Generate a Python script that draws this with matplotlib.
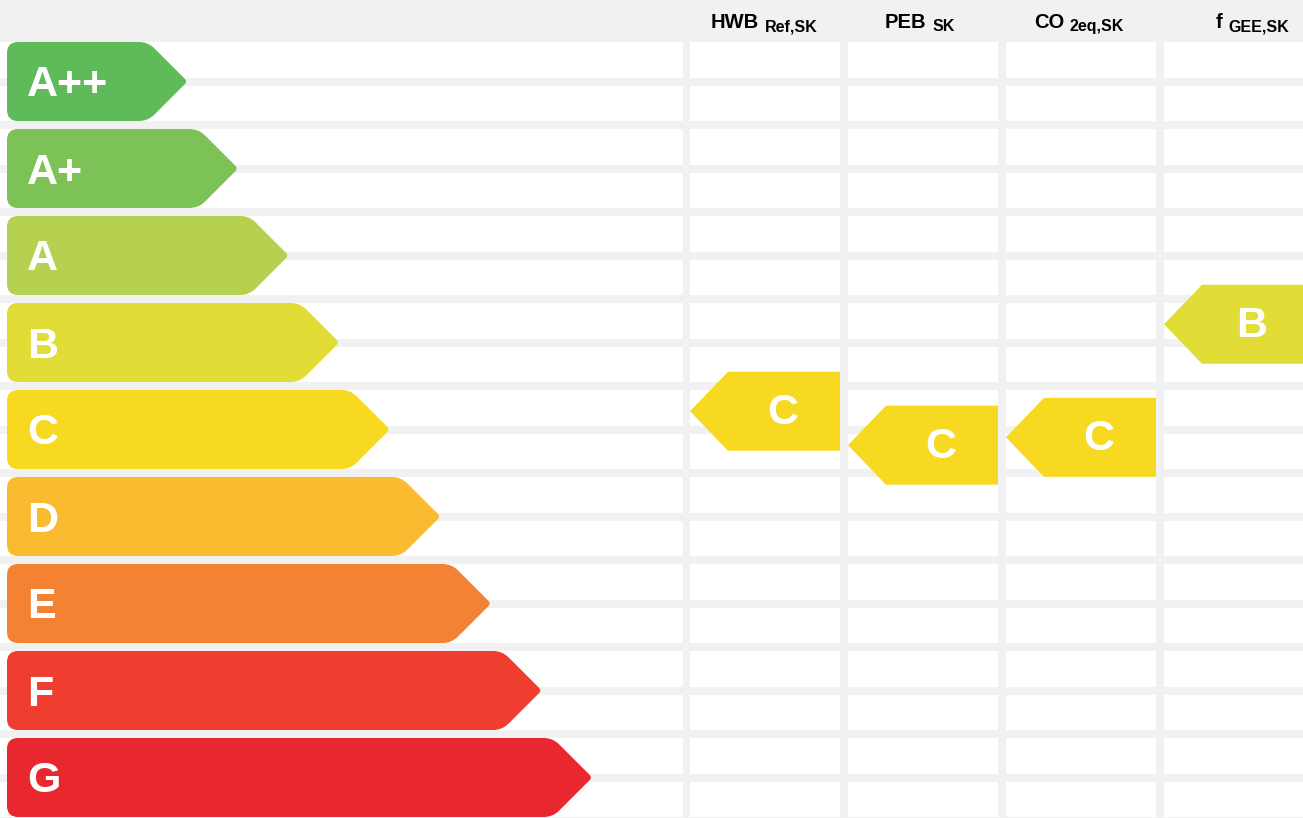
import numpy as np
import matplotlib
matplotlib.use("Agg")
import matplotlib.pyplot as plt
from matplotlib.path import Path
from matplotlib.patches import PathPatch, Polygon, Rectangle

plt.rcParams['font.family'] = ['Liberation Sans', 'DejaVu Sans']

# energy classes (top to bottom) and their colours
classes = ['A++', 'A+', 'A', 'B', 'C', 'D', 'E', 'F', 'G']
class_colors = ['#5fba5a', '#7dc256', '#b6d14f', '#e1dc36', '#f6d920',
                '#fbbb30', '#f38233', '#ef3d2f', '#e9272e']

# indicator columns: header main text, subscript, rating, position on scale (class units)
ind_main = ['HWB', 'PEB', 'CO', 'f']
ind_sub = ['Ref,SK', 'SK', '2eq,SK', 'GEE,SK']
ind_rating = ['C', 'C', 'C', 'B']
ind_pos = [3.79, 4.18, 4.09, 2.79]

# layout (pixels)
W, H = 1303, 818
BG = '#f1f1f1'
top0 = 42.0          # top of the first row
pitch = 87.0         # one class row
sub_h = 35.5         # white sub-row height
sub_pitch = 43.5
bar_h = 79.0
left_x = 7.0
tip0, tip_step = 187.5, 50.6
col_left = [690.0, 848.0, 1006.0, 1164.0]
col_w = 149.5
head_cx = [764.5, 920.0, 1079.0, 1252.0]


def rounded_path(pts, radii):
    pts = [np.array(p, float) for p in pts]
    n = len(pts)
    verts, codes = [], []
    for i in range(n):
        p0, p1, p2 = pts[i - 1], pts[i], pts[(i + 1) % n]
        r = radii[i]
        d1 = (p0 - p1) / np.linalg.norm(p0 - p1)
        d2 = (p2 - p1) / np.linalg.norm(p2 - p1)
        a = p1 + d1 * r
        b = p1 + d2 * r
        verts.append(a)
        codes.append(Path.MOVETO if i == 0 else Path.LINETO)
        verts += [p1, b]
        codes += [Path.CURVE3, Path.CURVE3]
    verts.append(verts[0])
    codes.append(Path.CLOSEPOLY)
    return Path(verts, codes)


fig = plt.figure(figsize=(W / 100, H / 100), dpi=100)
fig.patch.set_facecolor(BG)
ax = fig.add_axes([0, 0, 1, 1])
ax.set_xlim(0, W)
ax.set_ylim(H, 0)
ax.axis('off')

# white grid cells
for k in range(2 * len(classes)):
    y = top0 + k * sub_pitch
    ax.add_patch(Rectangle((0, y), 683, sub_h, fc='white', ec='none'))
    for cl in col_left:
        ax.add_patch(Rectangle((cl, y), col_w, sub_h, fc='white', ec='none'))

# class arrows
for i, (lab, c) in enumerate(zip(classes, class_colors)):
    t = top0 + i * pitch
    b = t + bar_h
    m = (t + b) / 2
    tip = tip0 + i * tip_step
    pts = [(left_x, t), (tip - bar_h / 2, t), (tip, m), (tip - bar_h / 2, b), (left_x, b)]
    ax.add_patch(PathPatch(rounded_path(pts, [11, 9, 4, 9, 11]), fc=c, ec='none'))
    ax.text(27, m + 15, lab, color='white', fontsize=31, fontweight='bold',
            ha='left', va='baseline')

# indicator arrows
for j in range(len(ind_main)):
    cidx = classes.index(ind_rating[j])
    m = top0 + bar_h / 2 + ind_pos[j] * pitch
    t, b = m - bar_h / 2, m + bar_h / 2
    x0 = col_left[j]
    x1 = min(x0 + col_w + 0.5, W)
    pts = [(x0, m), (x0 + 38, t), (x1, t), (x1, b), (x0 + 38, b)]
    ax.add_patch(Polygon(pts, closed=True, fc=class_colors[cidx], ec='none'))
    ax.text((x0 + 38 + x1) / 2 - 1, m + 13, ind_rating[j], color='white',
            fontsize=31, fontweight='bold', ha='center', va='baseline')

# headers: main text + lowered subscript, centred as a group
fig.canvas.draw()
r = fig.canvas.get_renderer()
for j in range(len(ind_main)):
    t1 = ax.text(0, 28, ind_main[j], fontsize=14.5, fontweight='bold',
                 ha='left', va='baseline', color='black')
    t2 = ax.text(0, 31, ind_sub[j], fontsize=11.5, fontweight='bold',
                 ha='left', va='baseline', color='black')
    w1 = t1.get_window_extent(r).width
    w2 = t2.get_window_extent(r).width
    gap = 6
    total = w1 + gap + w2
    x_start = head_cx[j] - total / 2
    t1.set_x(x_start)
    t2.set_x(x_start + w1 + gap)

fig.savefig('out.png', dpi=100, facecolor=BG)
